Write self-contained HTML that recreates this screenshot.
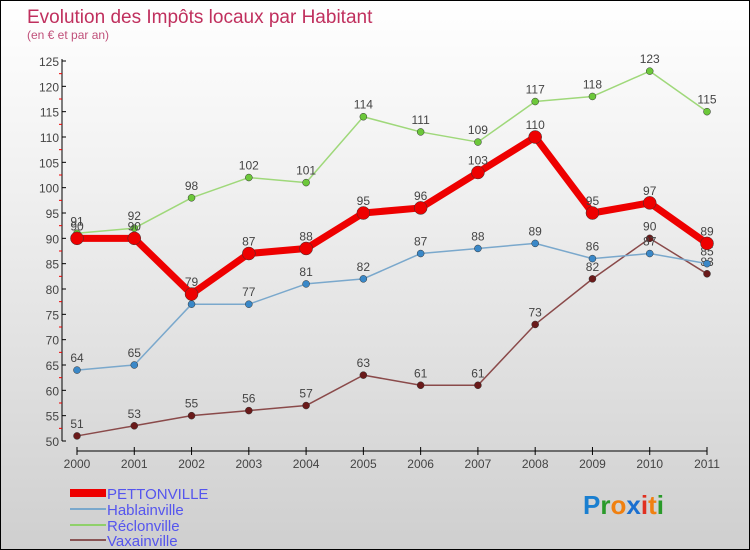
<!DOCTYPE html>
<html><head><meta charset="utf-8"><style>
body{margin:0}
#c{width:748px;height:548px;border:1px solid #000;background:linear-gradient(#fff,#f2f2f2 30%,#cfcfcf);position:relative;overflow:hidden;font-family:"Liberation Sans",sans-serif}
</style></head><body>
<div id="c">
<svg id="s" width="748" height="548" style="position:absolute;left:0;top:0">
<text x="26" y="22" font-size="19" fill="#c0305e">Evolution des Impôts locaux par Habitant</text>
<text x="26" y="38" font-size="12" fill="#c0507a">(en € et par an)</text>
<g id="ax"></g><g id="ser"></g>
<g font-size="15" fill="#5555ee">
<rect x="69" y="488" width="36" height="8" fill="#e00"/>
<text x="106" y="498">PETTONVILLE</text>
<rect x="69" y="507" width="36" height="2" fill="#7aa8cc"/>
<text x="106" y="514">Hablainville</text>
<rect x="69" y="523" width="36" height="2" fill="#8fd06a"/>
<text x="106" y="530">Réclonville</text>
<rect x="69" y="538" width="36" height="2" fill="#8a5555"/>
<text x="106" y="545">Vaxainville</text>
</g>
<text x="582" y="513" font-size="26" font-weight="bold"><tspan fill="#1a7fd0">P</tspan><tspan fill="#2a9a2a">r</tspan><tspan fill="#f08010">o</tspan><tspan fill="#1a6fd0">x</tspan><tspan fill="#e03020">i</tspan><tspan fill="#f08010">t</tspan><tspan fill="#2a9a2a">i</tspan></text>
</svg>
</div>
<script>
const years=[2000,2001,2002,2003,2004,2005,2006,2007,2008,2009,2010,2011];
const yTicks=[50,55,60,65,70,75,80,85,90,95,100,105,110,115,120,125];
const pettonville=[90,90,79,87,88,95,96,103,110,95,97,89];
const hablainville=[64,65,77,77,81,82,87,88,89,86,87,85];
const reclonville=[91,92,98,102,101,114,111,109,117,118,123,115];
const vaxainville=[51,53,55,56,57,63,61,61,73,82,90,83];
const NS="http://www.w3.org/2000/svg";
const X=i=>76+i*(630/11), Y=v=>440-(v-50)*(380/75);
function mk(t,a,p){const e=document.createElementNS(NS,t);for(const k in a)e.setAttribute(k,a[k]);p.appendChild(e);return e;}
const ax=document.getElementById('ax'),ser=document.getElementById('ser');
let l=mk('line',{x1:61,y1:58,x2:61,y2:440,stroke:'#000','stroke-width':1},ax);


l=mk('line',{x1:76,y1:450,x2:706,y2:450,stroke:'#000','stroke-width':1},ax);


yTicks.forEach((v,i)=>{
 mk('line',{x1:61,y1:Y(v),x2:65,y2:Y(v),stroke:'#000'},ax);
 if(i<yTicks.length-1)mk('line',{x1:58,y1:Y(v+2.5),x2:61,y2:Y(v+2.5),stroke:'#e00'},ax);
 const t=mk('text',{x:58,y:Y(v)+5,'font-size':12,fill:'#444','text-anchor':'end'},ax);t.textContent=v;
 
 
});
years.forEach((y,i)=>{
 mk('line',{x1:X(i),y1:446,x2:X(i),y2:454,stroke:'#000'},ax);
 const t=mk('text',{x:X(i),y:467,'font-size':12,fill:'#444','text-anchor':'middle'},ax);t.textContent=y;
 
 
});
function series(d,col,dot,w,r,name){
 const p=mk('polyline',{points:d.map((v,i)=>X(i)+','+Y(v)).join(' '),fill:'none',stroke:col,'stroke-width':w,'stroke-linejoin':'round'},ser);
 
 
 d.forEach((v,i)=>{
  const c=mk('circle',{cx:X(i),cy:Y(v),r:r,fill:dot,stroke:'#333','stroke-width':0.5},ser);
  
  
  const t=mk('text',{x:X(i),y:Y(v)-8,'font-size':12,fill:'#444','text-anchor':'middle'},ser);t.textContent=v;
  
  
 });
}
series(vaxainville,'#8a4a4a','#6a1a1a',1.5,3.5,'vaxainville');
series(hablainville,'#7aa8cc','#3a88c8',1.5,3.5,'hablainville');
series(reclonville,'#9fd87a','#6cc83a',1.5,3.5,'reclonville');
series(pettonville,'#ee0000','#ee0000',7,6.5,'pettonville');
</script>
</body></html>
